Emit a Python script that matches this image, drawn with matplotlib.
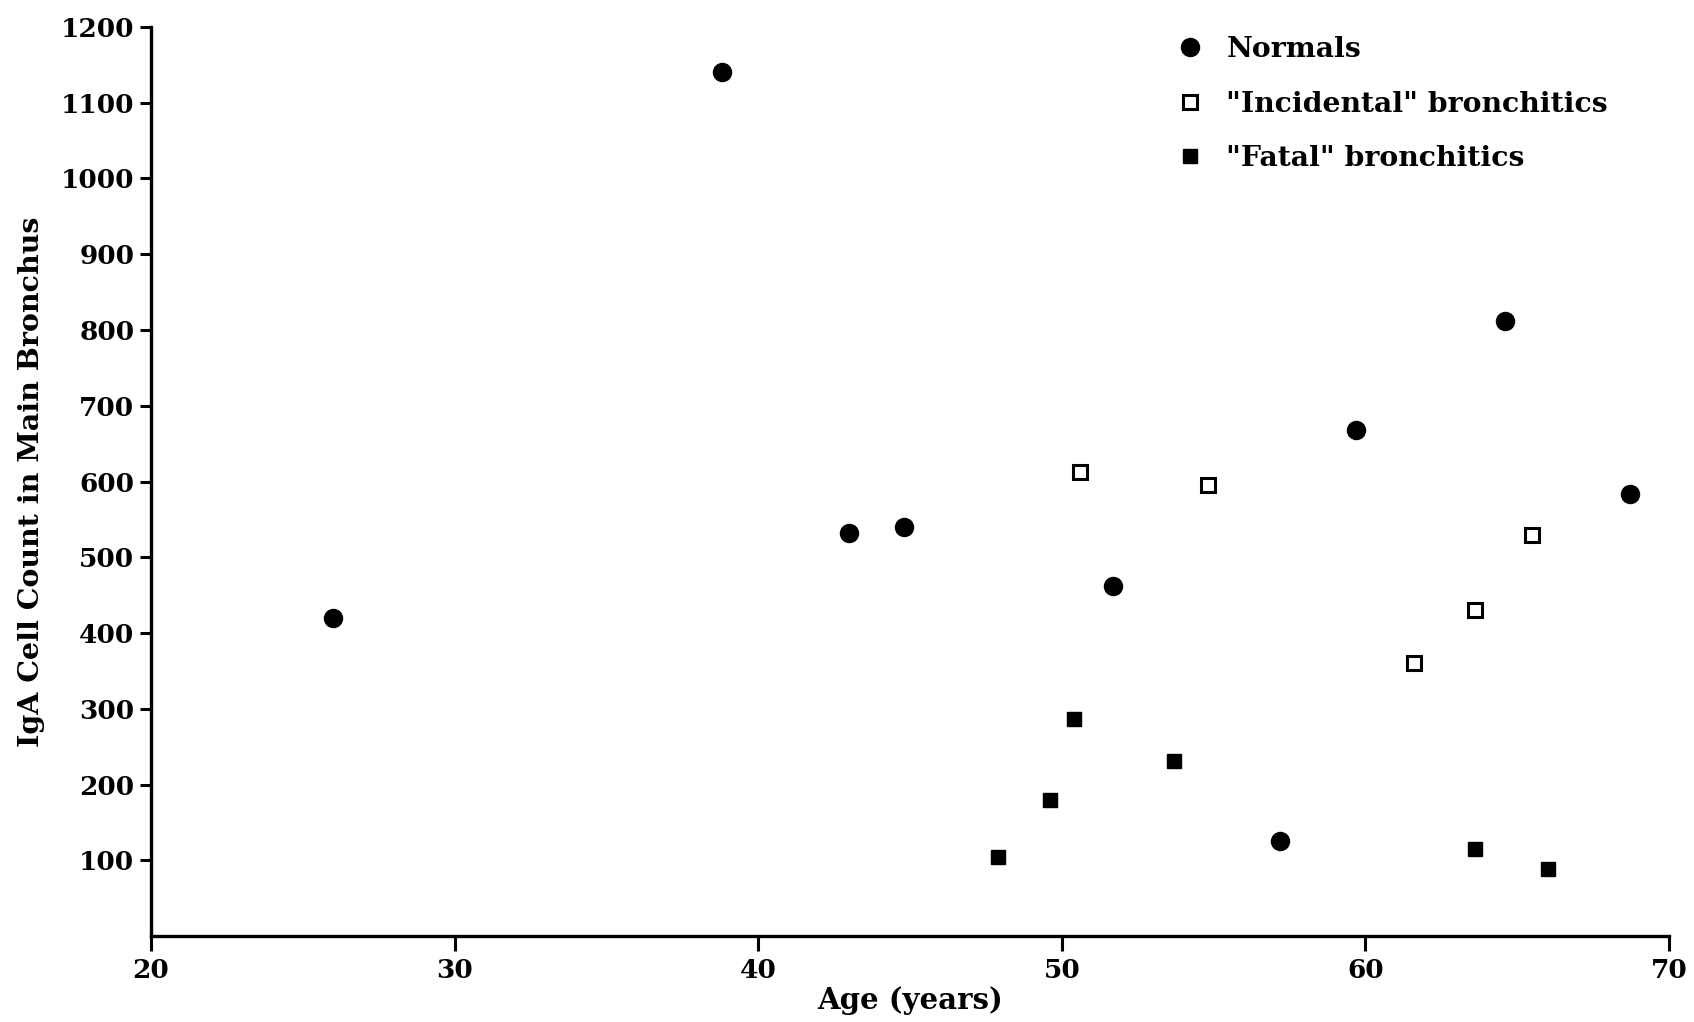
import matplotlib
matplotlib.use("Agg")
import matplotlib.pyplot as plt
from matplotlib.lines import Line2D

# IgA cell counts in the main bronchus by age
normals_age = [26.0, 38.8, 43.0, 44.8, 51.7, 57.2, 59.7, 64.6, 68.7]
normals_count = [420, 1140, 532, 540, 462, 126, 668, 812, 584]

incidental_age = [50.6, 54.8, 61.6, 63.6, 65.5]
incidental_count = [612, 595, 360, 431, 530]

fatal_age = [47.9, 49.6, 50.4, 53.7, 63.6, 66.0]
fatal_count = [104, 180, 287, 231, 115, 88]

x_ticks = [20, 30, 40, 50, 60, 70]
y_ticks = [100, 200, 300, 400, 500, 600, 700, 800, 900, 1000, 1100, 1200]

series_labels = ["Normals", "\"Incidental\" bronchitics", "\"Fatal\" bronchitics"]

serif = ["DejaVu Serif"]

fig = plt.figure(figsize=(16.94, 10.22), dpi=100)
ax = fig.add_axes([0.0891, 0.0841, 0.8962, 0.8895])

ax.plot(normals_age, normals_count, linestyle="none", marker="o",
        markersize=13, color="black")
ax.plot(incidental_age, incidental_count, linestyle="none", marker="s",
        markersize=10, markerfacecolor="white", markeredgecolor="black",
        markeredgewidth=2.2)
ax.plot(fatal_age, fatal_count, linestyle="none", marker="s",
        markersize=10.5, color="black")

ax.set_xlim(20, 70)
ax.set_ylim(0, 1200)
ax.set_xticks(x_ticks)
ax.set_yticks(y_ticks)
ax.set_xticklabels([str(v) for v in x_ticks], fontfamily=serif,
                   fontweight="bold", fontsize=19)
ax.set_yticklabels([str(v) for v in y_ticks], fontfamily=serif,
                   fontweight="bold", fontsize=19)

for side in ("top", "right"):
    ax.spines[side].set_visible(False)
for side in ("left", "bottom"):
    ax.spines[side].set_linewidth(2.4)

ax.tick_params(axis="y", direction="out", length=8, width=2.2, pad=4)
ax.tick_params(axis="x", direction="out", length=11, width=2.2, pad=5)

ax.set_xlabel("Age (years)", fontfamily=serif, fontweight="bold",
              fontsize=21, labelpad=2)
ax.set_ylabel("IgA Cell Count in Main Bronchus", fontfamily=serif,
              fontweight="bold", fontsize=20.5, labelpad=11)

handles = [
    Line2D([], [], linestyle="none", marker="o", markersize=13, color="black"),
    Line2D([], [], linestyle="none", marker="s", markersize=10,
           markerfacecolor="white", markeredgecolor="black", markeredgewidth=2.2),
    Line2D([], [], linestyle="none", marker="s", markersize=10.5, color="black"),
]
ax.legend(handles, series_labels, loc="upper left",
          bbox_to_anchor=(0.675, 0.99), frameon=False,
          prop={"family": serif, "weight": "bold", "size": 20.3},
          handlelength=1.0, handletextpad=0.8, labelspacing=0.98,
          borderpad=0.0, borderaxespad=0.0)

fig.savefig("out.png", dpi=100, facecolor="white")
